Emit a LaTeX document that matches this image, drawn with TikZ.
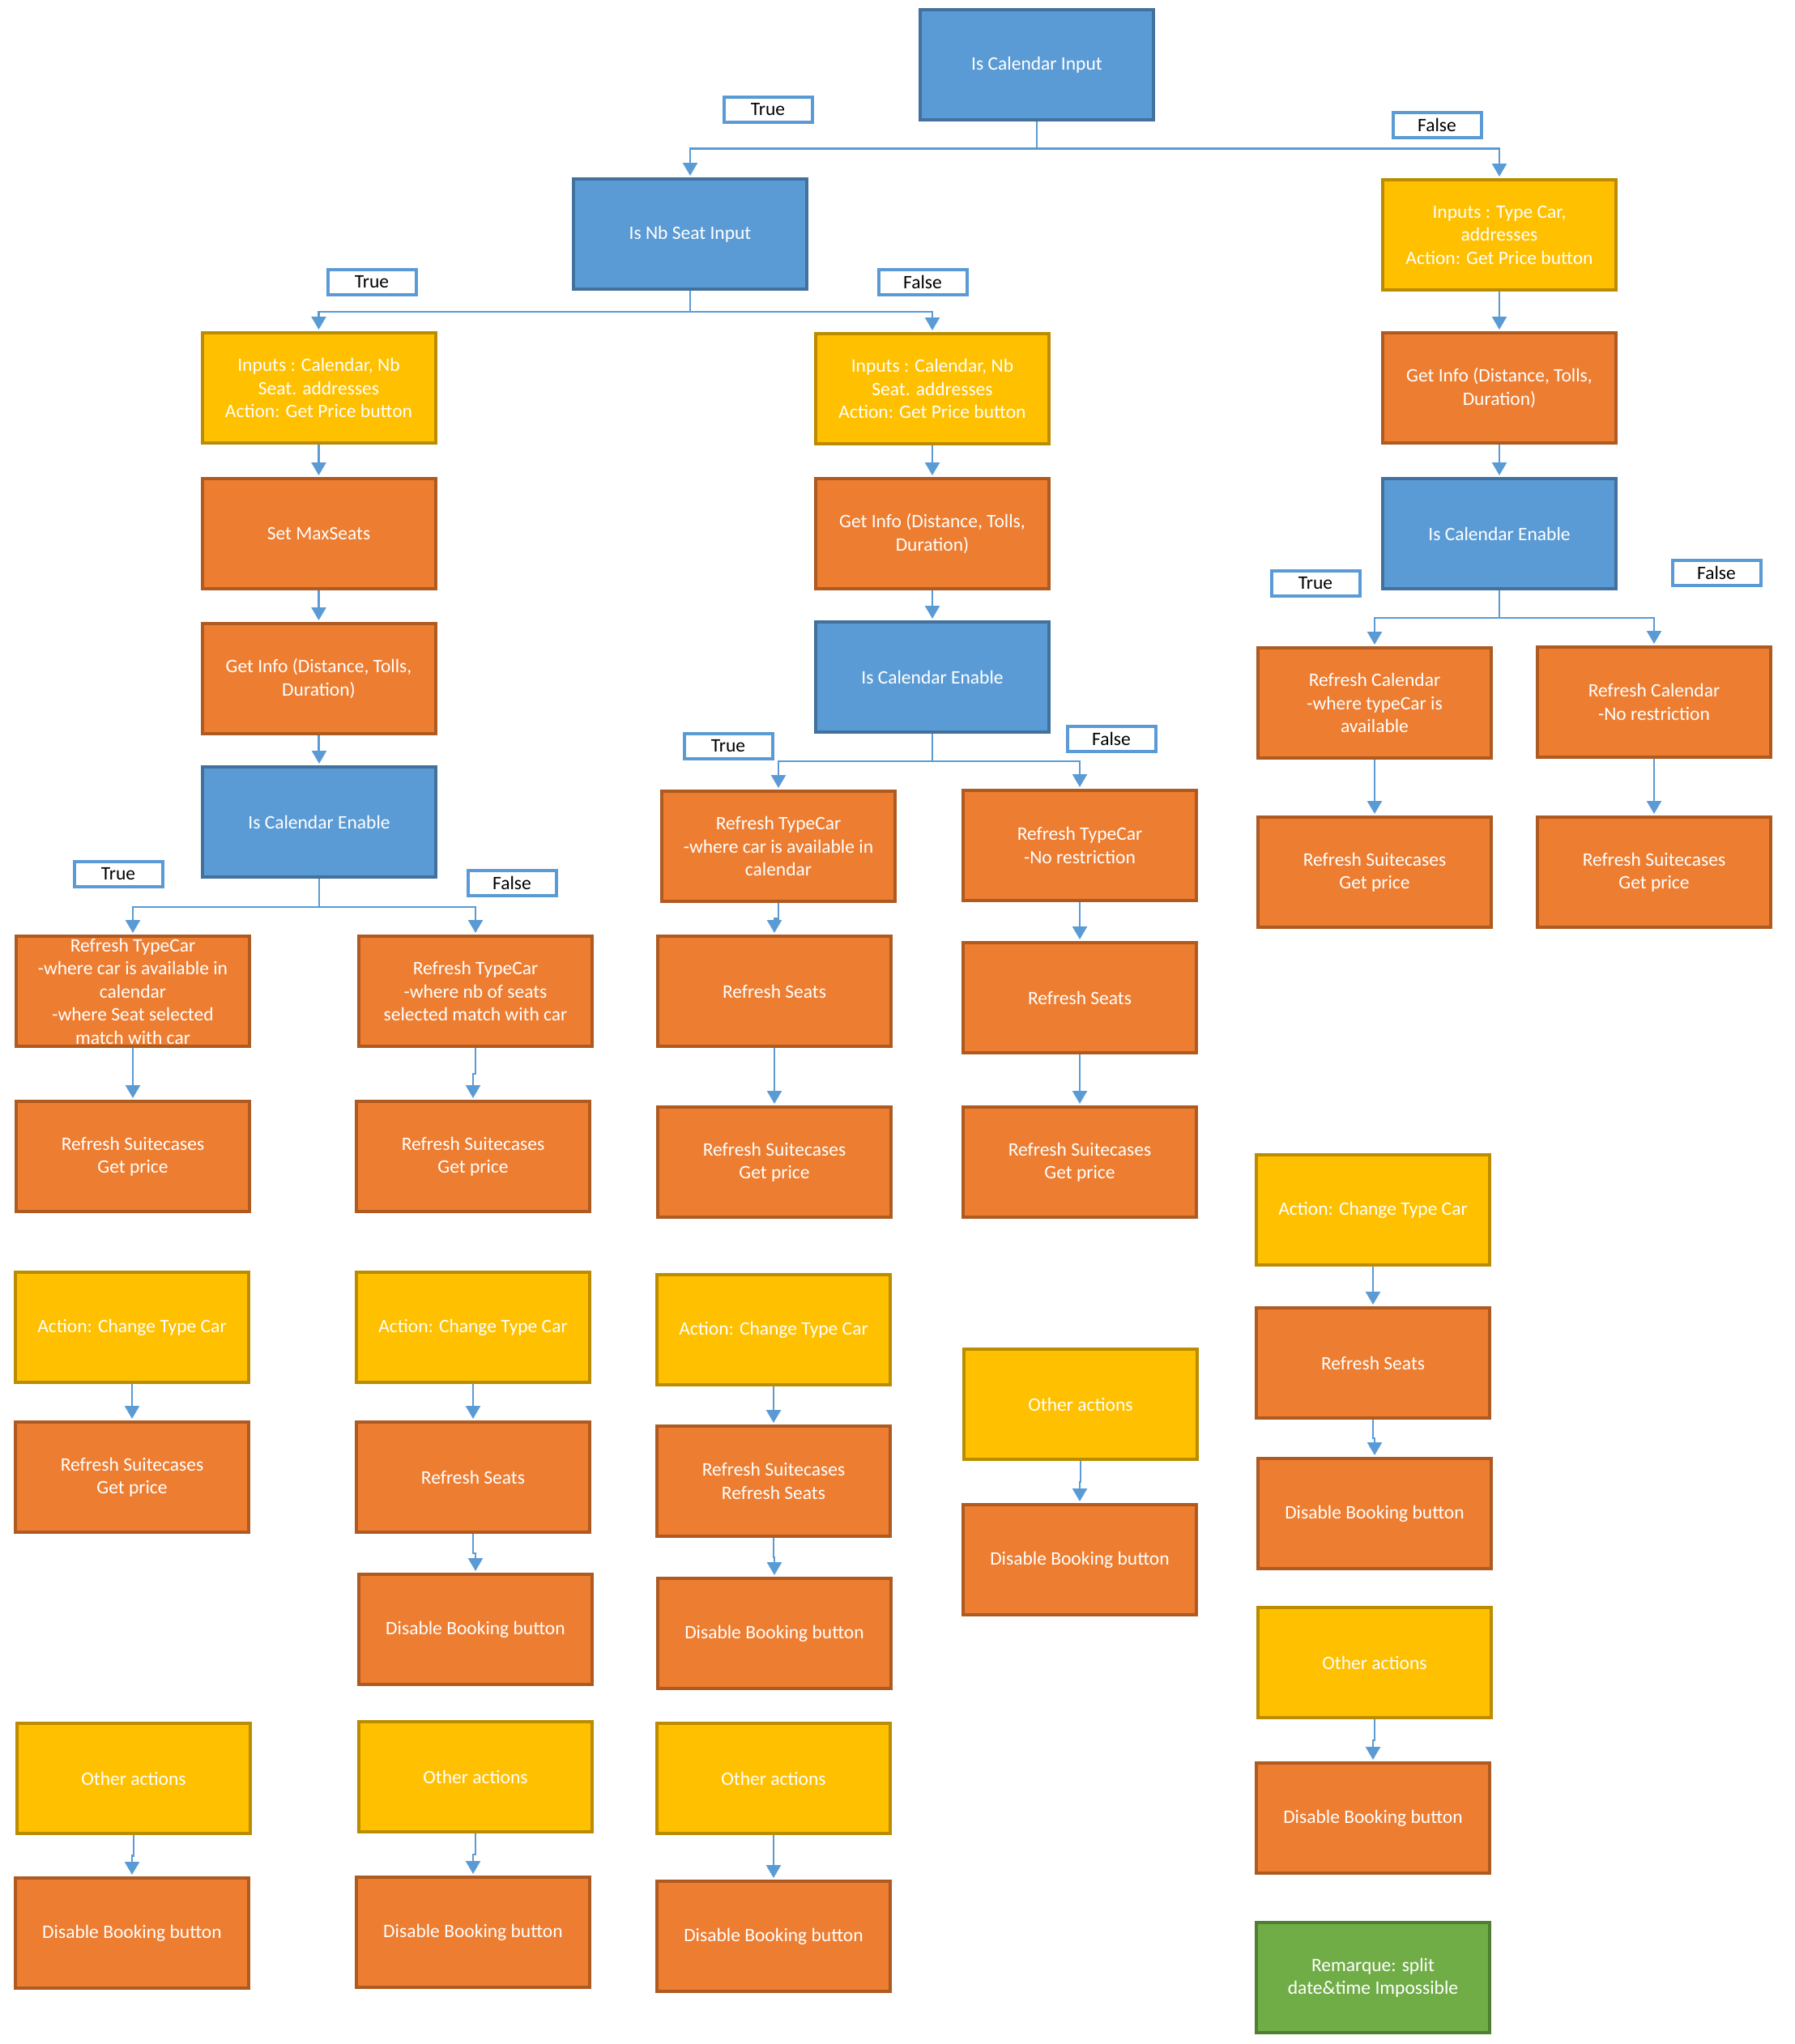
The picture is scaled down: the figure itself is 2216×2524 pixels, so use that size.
\documentclass[tikz,border=0pt]{standalone}
\usepackage{fontspec}
\setmainfont{Carlito}
\usetikzlibrary{arrows.meta,calc}
\definecolor{cblue}{HTML}{5B9BD5}
\definecolor{cblueD}{HTML}{41719C}
\definecolor{corg}{HTML}{ED7D31}
\definecolor{corgD}{HTML}{AE5A21}
\definecolor{cyel}{HTML}{FFC000}
\definecolor{cyelD}{HTML}{BC8C00}
\definecolor{cgrn}{HTML}{70AD47}
\definecolor{cgrnD}{HTML}{507E32}
\tikzset{
  box/.style={draw, line width=4pt, minimum width=288pt, minimum height=136pt, align=center, text=white, inner sep=2pt, font=\fontsize{23.5}{28.5}\selectfont},
  bluebox/.style={box, fill=cblue, draw=cblueD},
  orgbox/.style={box, fill=corg, draw=corgD},
  yelbox/.style={box, fill=cyel, draw=cyelD},
  grnbox/.style={box, fill=cgrn, draw=cgrnD},
  lbl/.style={draw=cblue, line width=4pt, fill=white, minimum width=109pt, minimum height=31pt, inner sep=0pt, text=black, font=\fontsize{23.5}{28.5}\selectfont},
  stem/.style={draw=cblue, line width=2.5pt},
  conn/.style={draw=cblue, line width=2.5pt, -{Triangle[width=18pt,length=16pt]}, shorten >=2pt},
}
\newcommand{\vlink}[2]{\draw[conn] (#1.south) |- ($(#1.south)!0.5!(#2.north)$) -| (#2.north);}
\begin{document}
\begin{tikzpicture}[x=1pt,y=-1pt]
\useasboundingbox (0,0) rectangle (2216,2524);
% top
\node[bluebox] (A) at (1280,80) {Is Calendar Input};
\node[bluebox] (B) at (852,289) {Is Nb Seat Input};
\node[yelbox] (C) at (1851,290) {Inputs : Type Car,\\addresses\\Action: Get Price button};
\node[lbl] (tA) at (948,135) {True};
\node[lbl] (fA) at (1774,154) {False};
\coordinate (bA) at (1280,183.5);
\draw[stem] (A.south) -- (bA);
\draw[conn] (bA) -| (B.north);
\draw[conn] (bA) -| (C.north);
% B branch
\node[yelbox] (D) at (393.5,479) {Inputs : Calendar, Nb\\Seat. addresses\\Action: Get Price button};
\node[yelbox] (E) at (1151,480) {Inputs : Calendar, Nb\\Seat. addresses\\Action: Get Price button};
\node[lbl] (tB) at (459,348) {True};
\node[lbl] (fB) at (1139,348) {False};
\coordinate (bB) at (852,385);
\draw[stem] (B.south) -- (bB);
\draw[conn] (bB) -| (D.north);
\draw[conn] (bB) -| (E.north);
% right column
\node[orgbox] (F) at (1851,479) {Get Info (Distance, Tolls,\\Duration)};
\node[bluebox] (G) at (1851,659) {Is Calendar Enable};
\vlink{C}{F}
\vlink{F}{G}
\node[lbl] (tG) at (1624,720) {True};
\node[lbl] (fG) at (2119,707) {False};
\node[orgbox] (H) at (1697,868) {Refresh Calendar\\-where typeCar is\\available};
\node[orgbox] (I) at (2042,867) {Refresh Calendar\\-No restriction};
\coordinate (bG) at (1851,763);
\draw[stem] (G.south) -- (bG);
\draw[conn] (bG) -| (H.north);
\draw[conn] (bG) -| (I.north);
\node[orgbox] (J) at (1697,1077) {Refresh Suitecases\\Get price};
\node[orgbox] (K) at (2042,1077) {Refresh Suitecases\\Get price};
\vlink{H}{J}
\vlink{I}{K}
% left column
\node[orgbox] (L) at (393.5,659) {Set MaxSeats};
\node[orgbox] (M) at (393.5,838) {Get Info (Distance, Tolls,\\Duration)};
\node[bluebox] (N) at (394,1015) {Is Calendar Enable};
\vlink{D}{L}
\vlink{L}{M}
\vlink{M}{N}
\node[lbl] (tN) at (146,1079) {True};
\node[lbl] (fN) at (632,1090) {False};
\node[orgbox] (O) at (164,1224) {Refresh TypeCar\\-where car is available in\\calendar\\-where Seat selected\\match with car};
\node[orgbox] (P) at (587,1224) {Refresh TypeCar\\-where nb of seats\\selected match with car};
\coordinate (bN) at (394,1120);
\draw[stem] (N.south) -- (bN);
\draw[conn] (bN) -| (O.north);
\draw[conn] (bN) -| (P.north);
\node[orgbox] (Q) at (164,1428) {Refresh Suitecases\\Get price};
\node[orgbox] (R) at (584,1428) {Refresh Suitecases\\Get price};
\vlink{O}{Q}
\vlink{P}{R}
\node[yelbox] (S) at (163,1639) {Action: Change Type Car};
\node[orgbox] (T) at (163,1824) {Refresh Suitecases\\Get price};
\vlink{S}{T}
\node[yelbox] (U) at (584,1639) {Action: Change Type Car};
\node[orgbox] (V) at (584,1824) {Refresh Seats};
\node[orgbox] (W) at (587,2012) {Disable Booking button};
\vlink{U}{V}
\vlink{V}{W}
\node[yelbox] (X) at (165,2196) {Other actions};
\node[orgbox] (Y) at (163,2387) {Disable Booking button};
\vlink{X}{Y}
\node[yelbox] (Z) at (587,2194) {Other actions};
\node[orgbox] (AA) at (584,2386) {Disable Booking button};
\vlink{Z}{AA}
% middle column
\node[orgbox] (AB) at (1151,659) {Get Info (Distance, Tolls,\\Duration)};
\node[bluebox] (AC) at (1151,836) {Is Calendar Enable};
\vlink{E}{AB}
\vlink{AB}{AC}
\node[lbl] (tAC) at (899,921) {True};
\node[lbl] (fAC) at (1372,912) {False};
\node[orgbox] (AD) at (961,1045) {Refresh TypeCar\\-where car is available in\\calendar};
\node[orgbox] (AE) at (1333,1044) {Refresh TypeCar\\-No restriction};
\coordinate (bAC) at (1151,940);
\draw[stem] (AC.south) -- (bAC);
\draw[conn] (bAC) -| (AD.north);
\draw[conn] (bAC) -| (AE.north);
\node[orgbox] (AF) at (956,1224) {Refresh Seats};
\node[orgbox] (AG) at (1333,1232) {Refresh Seats};
\vlink{AD}{AF}
\vlink{AE}{AG}
\node[orgbox] (AH) at (956,1435) {Refresh Suitecases\\Get price};
\node[orgbox] (AI) at (1333,1435) {Refresh Suitecases\\Get price};
\vlink{AF}{AH}
\vlink{AG}{AI}
\node[yelbox] (AJ) at (955,1642) {Action: Change Type Car};
\node[orgbox] (AK) at (955,1829) {Refresh Suitecases\\Refresh Seats};
\node[orgbox] (AL) at (956,2017) {Disable Booking button};
\vlink{AJ}{AK}
\vlink{AK}{AL}
\node[yelbox] (AM) at (955,2196) {Other actions};
\node[orgbox] (AN) at (955,2391) {Disable Booking button};
\vlink{AM}{AN}
\node[yelbox] (AO) at (1334,1734) {Other actions};
\node[orgbox] (AP) at (1333,1926) {Disable Booking button};
\vlink{AO}{AP}
% right lower column
\node[yelbox] (AQ) at (1695,1494) {Action: Change Type Car};
\node[orgbox] (AR) at (1695,1683) {Refresh Seats};
\node[orgbox] (AS) at (1697,1869) {Disable Booking button};
\vlink{AQ}{AR}
\vlink{AR}{AS}
\node[yelbox] (AT) at (1697,2053) {Other actions};
\node[orgbox] (AU) at (1695,2245) {Disable Booking button};
\vlink{AT}{AU}
\node[grnbox] (AV) at (1695,2442) {Remarque: split\\date\&time Impossible};
\end{tikzpicture}
\end{document}
